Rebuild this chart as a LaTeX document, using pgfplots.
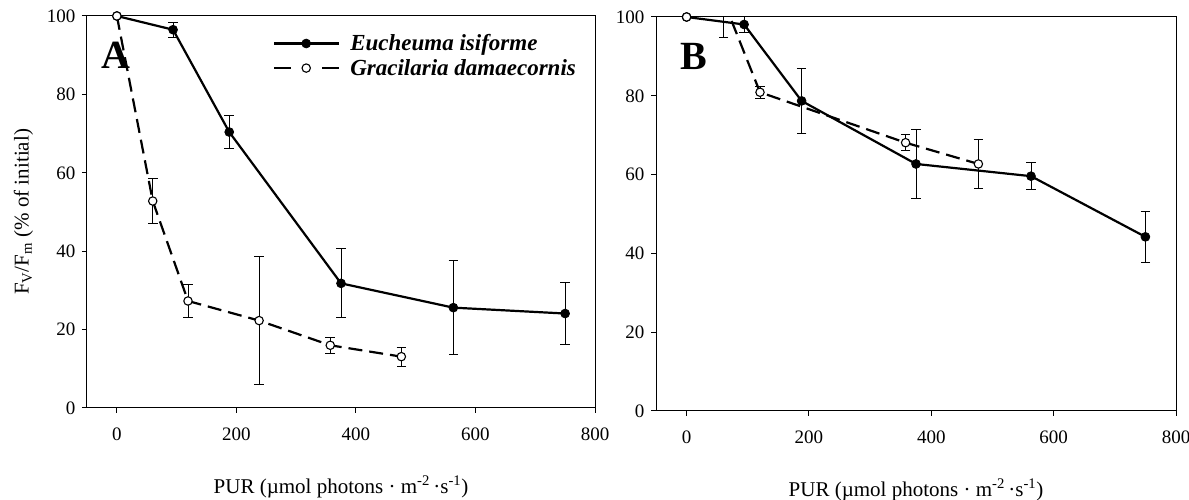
\documentclass[border=0pt]{standalone}
\usepackage{pgfplots}
\pgfplotsset{compat=1.18}
\usepackage{fontspec}
\setmainfont{Liberation Serif}

% Fv/Fm recovery after exposure to PUR (mean, error as half-range)
\pgfplotstableread{
x    y     e
0    100   0
94   96.5  1.9
188  70.4  4.3
375  31.8  8.8
563  25.6  12.0
750  24.1  8.0
}\euchA
\pgfplotstableread{
x    y     e
0    100   0
60   52.8  5.7
119  27.3  4.3
238  22.3  16.3
357  16.0  2.0
476  13.1  2.4
}\gracA
\pgfplotstableread{
x    y     e
0    100   0
94   98.1  2.1
188  78.7  8.2
375  62.7  8.7
563  59.6  3.5
750  44.2  6.5
}\euchB
\pgfplotstableread{
x    y     e
0    100   0
60   104.3 9.6
120  80.9  1.5
358  68.1  2.0
477  62.7  6.3
}\gracB

\pgfplotsset{
  panel/.style={
    scale only axis,
    xmin=-50, xmax=800, ymin=0, ymax=100,
    xtick={0,200,...,800}, ytick={0,20,...,100},
    tick align=outside, xtick pos=bottom, ytick pos=left,
    major tick length=5pt,
    axis line style={line width=1pt},
    every tick/.style={line width=1pt, black},
    /pgf/number format/assume math mode=true,
    ticklabel style={font=\fontsize{19}{22}\selectfont},
    yticklabel style={xshift=-3pt},
    xticklabel style={yshift=-11pt},
    label style={font=\fontsize{21}{25}\selectfont},
    xlabel={PUR (µmol photons · m\textsuperscript{-2}\,·s\textsuperscript{-1})},
  },
  euch/.style={
    black, solid, line width=2.2pt,
    mark=*, mark size=4.4pt,
    mark options={solid, fill=black, line width=0.8pt},
    error bars/y dir=both, error bars/y explicit,
    error bars/error bar style={line width=1pt, solid},
    error bars/error mark options={rotate=90, mark size=4.8pt, line width=1pt},
  },
  grac/.style={
    black, line width=2.2pt, dash pattern=on 14pt off 7pt,
    mark=*, mark size=4.2pt,
    mark options={solid, fill=white, line width=1.1pt},
    legend image post style={dash pattern=on 17pt off 31pt},
    error bars/y dir=both, error bars/y explicit,
    error bars/error bar style={line width=1pt, solid},
    error bars/error mark options={rotate=90, mark size=4.8pt, line width=1pt},
  },
}

\begin{document}
\begin{tikzpicture}[x=1pt,y=1pt]
\useasboundingbox (0,0) rectangle (1189,500);

% Panel A
\begin{axis}[panel,
  at={(87pt,92pt)}, anchor=south west,
  width=508pt, height=392pt,
  xlabel style={at={(axis description cs:0.5,-0.2015)}, anchor=center},
  ylabel={F\textsubscript{V}/F\textsubscript{m} (\% of initial)},
  ylabel style={at={(axis description cs:-0.125,0.5)}, anchor=center},
  legend style={at={(axis description cs:0.366,0.958)}, anchor=north west,
    draw=none, fill=none, inner sep=0pt,
    font=\bfseries\itshape\fontsize{23}{27}\selectfont,
    nodes={inner sep=2pt}, row sep=3pt,
    /tikz/every odd column/.append style={column sep=8pt}},
  legend cell align=left,
  legend image code/.code={%
    \draw[mark repeat=2,mark phase=2,#1]
      plot coordinates {(0pt,0pt) (32pt,0pt) (65pt,0pt)};},
]
\addplot[euch] table[x=x, y=y, y error=e] {\euchA};
\addlegendentry{Eucheuma isiforme}
\addplot[grac] table[x=x, y=y, y error=e] {\gracA};
\addlegendentry{Gracilaria damaecornis}
\node[font=\bfseries\fontsize{40}{44}\selectfont] at (axis cs:-1.5,90) {A};
\end{axis}

% Panel B
\begin{axis}[panel,
  at={(656pt,89pt)}, anchor=south west,
  width=520pt, height=394pt,
  xlabel style={at={(axis description cs:0.5,-0.2)}, anchor=center},
]
\addplot[euch] table[x=x, y=y, y error=e] {\euchB};
\addplot[grac] table[x=x, y=y, y error=e] {\gracB};
\node[font=\bfseries\fontsize{40}{44}\selectfont] at (axis cs:12,90) {B};
\end{axis}
\end{tikzpicture}
\end{document}
